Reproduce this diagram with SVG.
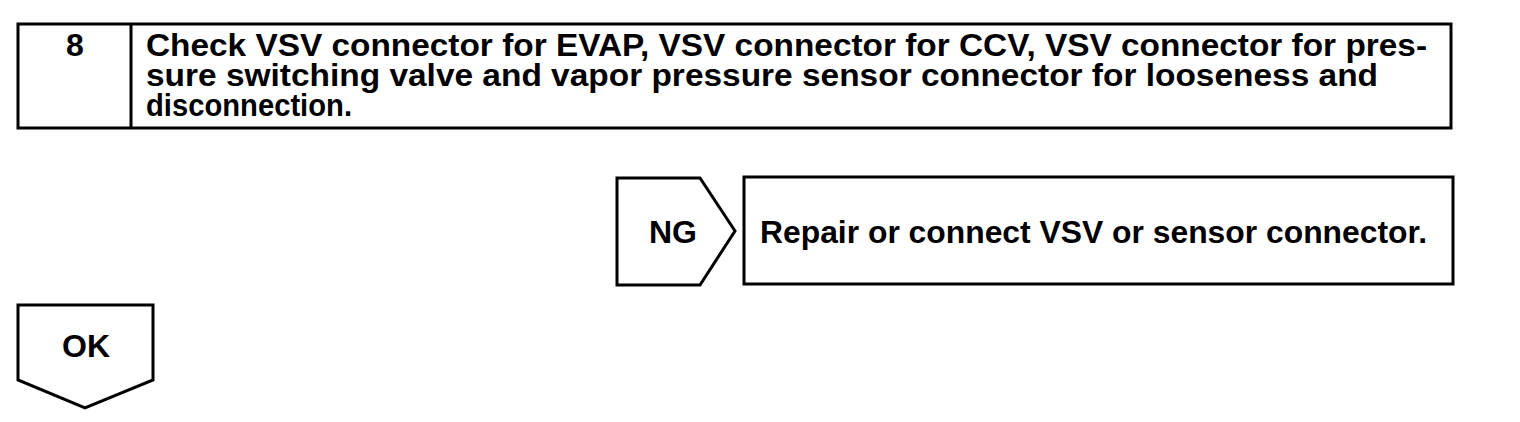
<svg xmlns="http://www.w3.org/2000/svg" width="1520" height="422" viewBox="0 0 1520 422">
<style>
.box{fill:#fff;stroke:#000;stroke-width:3}
.t{font-family:"Liberation Sans",Arial,sans-serif;font-weight:bold;font-size:32px;fill:#000}
</style>
<rect width="1520" height="422" fill="#fff"/>
<g id="step8">
<rect class="box" x="18" y="24" width="1433" height="104"/>
<line x1="131" y1="24" x2="131" y2="128" stroke="#000" stroke-width="3"/>
<text class="t" x="75" y="56" text-anchor="middle">8</text>
<text class="t" x="146" y="56" textLength="1281" lengthAdjust="spacingAndGlyphs">Check VSV connector for EVAP, VSV connector for CCV, VSV connector for pres-</text>
<text class="t" x="146" y="86" textLength="1232" lengthAdjust="spacingAndGlyphs">sure switching valve and vapor pressure sensor connector for looseness and</text>
<text class="t" x="146" y="116" textLength="206" lengthAdjust="spacingAndGlyphs">disconnection.</text>
</g>
<g id="ng">
<path class="box" d="M617,178 H700 L735,231 L700,285 H617 Z"/>
<text class="t" x="673" y="243" text-anchor="middle">NG</text>
</g>
<g id="repair">
<rect class="box" x="744" y="177" width="709" height="107"/>
<text class="t" x="760" y="243" textLength="667" lengthAdjust="spacingAndGlyphs">Repair or connect VSV or sensor connector.</text>
</g>
<g id="ok">
<path class="box" d="M18,305 H153 V380 L85,408 L18,380 Z"/>
<text class="t" x="86" y="357" text-anchor="middle">OK</text>
</g>
<g id="connectors"></g>
</svg>
